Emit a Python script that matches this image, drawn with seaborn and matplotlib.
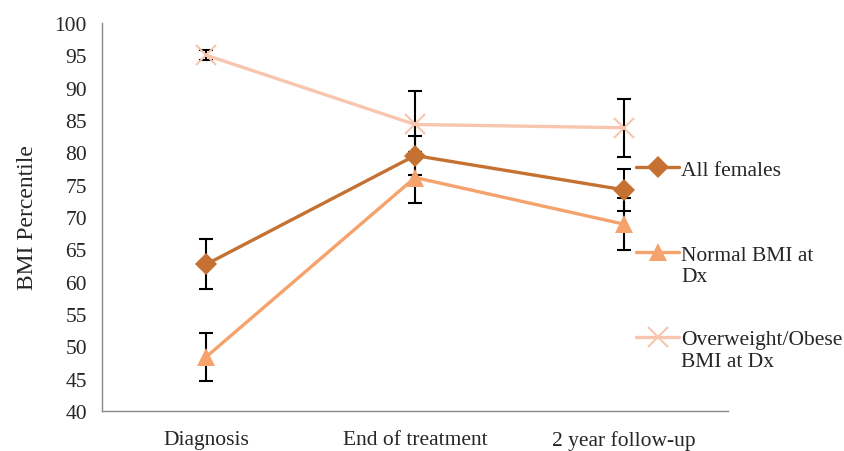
import numpy as np
import pandas as pd
import matplotlib
matplotlib.use("Agg")
import matplotlib.pyplot as plt
import seaborn as sns
from matplotlib.lines import Line2D

# data
timepoints = ["Diagnosis", "End of treatment", "2 year follow-up"]
all_females = [62.7, 79.5, 74.2]
all_females_err = [3.9, 3.0, 3.2]
normal_bmi = [48.4, 76.1, 68.9]
normal_bmi_err = [3.7, 3.9, 4.0]
over_bmi = [95.0, 84.3, 83.8]
over_bmi_err = [0.8, 5.2, 4.5]

series = ["All females", "Normal BMI at\nDx", "Overweight/Obese\nBMI at Dx"]
values = [all_females, normal_bmi, over_bmi]
errors = [all_females_err, normal_bmi_err, over_bmi_err]
colors = ["#C47132", "#F5A26C", "#F8C6AF"]
markers = ["D", "^", "x"]

sns.set_style("white")
plt.rcParams['font.family'] = ['Liberation Serif', 'DejaVu Serif']
FS = 15.5

fig, ax = plt.subplots(figsize=(8.44, 4.52), dpi=100)
fig.subplots_adjust(left=0.121, right=0.8626, top=0.947, bottom=0.0885)

# error bars underneath
for v, e in zip(values, errors):
    ax.errorbar(range(3), v, yerr=e, fmt="none", ecolor="black",
                elinewidth=1.5, capsize=5, capthick=1.5, zorder=1)

# draw series back to front
handles = []
for name, v, c, m in list(zip(series, values, colors, markers))[::-1]:
    d = pd.DataFrame({"pos": range(3), "value": v})
    if m == "x":
        kw = dict(markersize=14, markeredgewidth=1.5, markeredgecolor=c)
    elif m == "D":
        kw = dict(markersize=11, markeredgewidth=0)
    else:
        kw = dict(markersize=13, markeredgewidth=0)
    sns.lineplot(data=d, x="pos", y="value", color=c, marker=m, linewidth=2.4,
                 ax=ax, zorder=3, **kw)
    handles.insert(0, Line2D([], [], color=c, lw=2.4, marker=m, **kw))

ax.set_xlim(-0.5, 2.5)
ax.set_ylim(40, 100)
ax.set_yticks(range(40, 101, 5))
ax.set_xticks(range(3))
ax.set_xticklabels(timepoints)
ax.set_xticks([-0.5, 0.5, 1.5, 2.5], minor=True)
ax.tick_params(axis="x", which="major", length=0, pad=14, labelsize=FS)
ax.tick_params(axis="x", which="minor", length=6, width=1, color="#888888", direction="out")
ax.tick_params(axis="y", length=5, width=1, color="#888888", direction="out", labelsize=FS, pad=6)
ax.set_xlabel("")
ax.set_ylabel("BMI Percentile", fontsize=17, labelpad=12)

for s in ["top", "right"]:
    ax.spines[s].set_visible(False)
for s in ["left", "bottom"]:
    ax.spines[s].set_color("#888888")
    ax.spines[s].set_linewidth(1)

# legend with first lines only; second lines hung under the text
first_lines = [s.split("\n")[0] for s in series]
leg = ax.legend(handles, first_lines, loc="upper left", bbox_to_anchor=(0.853, 0.647),
                frameon=False, fontsize=FS, handlelength=2.0, handletextpad=0.1,
                labelspacing=3.0, borderaxespad=0, borderpad=0)
for t, s in zip(leg.get_texts(), series):
    if "\n" in s:
        ax.annotate(s.split("\n")[1], xy=(0, 0), xycoords=t, xytext=(0, -2),
                    textcoords="offset points", ha="left", va="top", fontsize=FS,
                    annotation_clip=False, zorder=10)

fig.savefig("out.png", dpi=100)
